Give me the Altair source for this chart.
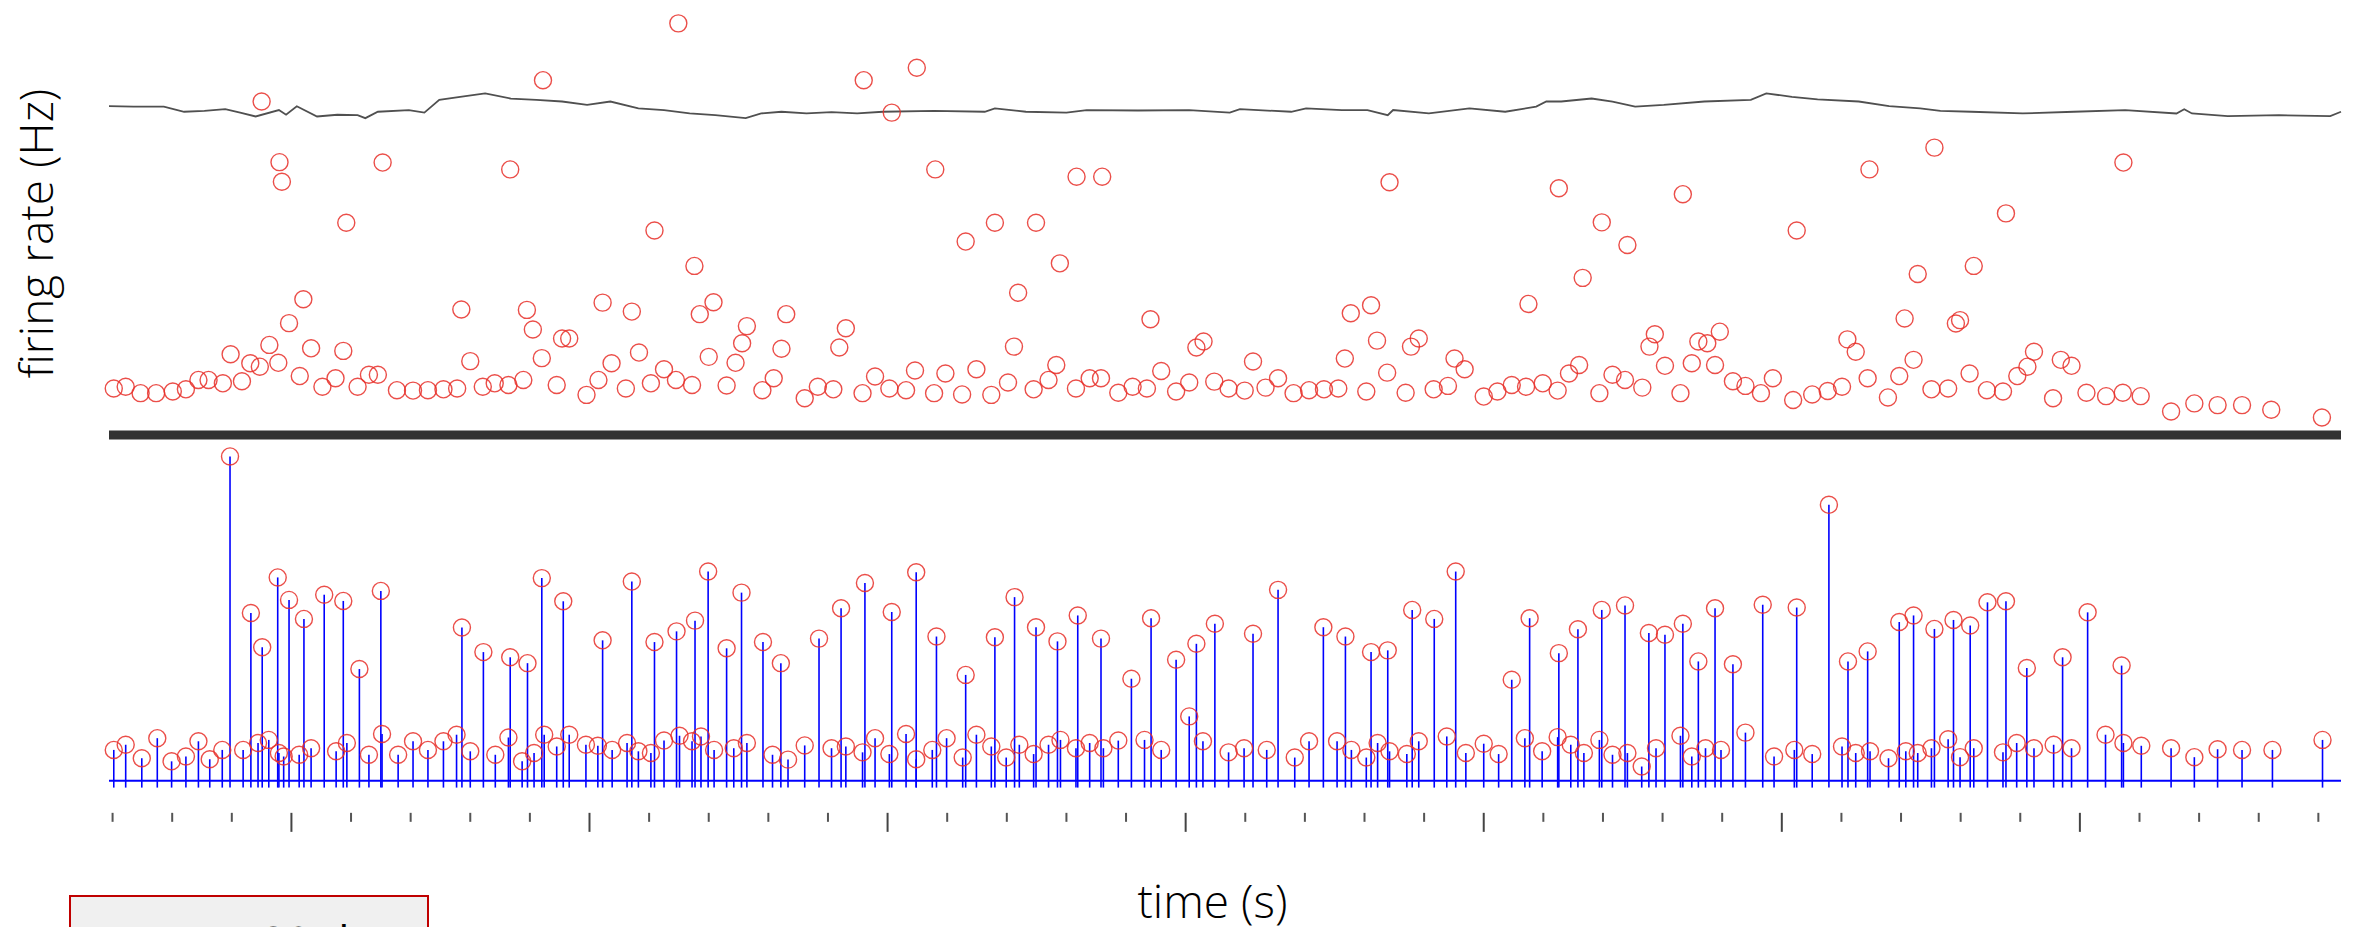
import altair as alt
import pandas as pd

FONT = "Open Sans"

# ---------------- top panel: firing rate of each spike (Hz) ----------------
rate_time_a = [11.49, 9.22, 4.50, 4.80, 4.84, 6.53, 8.67, 5.92, 11.09, 11.76,
               5.20, 7.85, 8.95, 10.22, 10.71, 11.85, 12.08, 13.30, 4.96, 9.05,
               12.64, 9.54, 9.66, 4.63, 5.33, 5.87, 12.56, 13.22, 3.98, 8.00,
               9.20, 10.83, 12.00, 12.45, 4.31, 4.47, 4.78, 10.37, 11.25, 5.14,
               6.30, 6.45, 5.74, 10.15, 13.09, 11.45]
rate_hz_a = [96.4, 83.1, 78.1, 63.9, 59.3, 63.8, 62.2, 49.7, 47.9, 39.6,
             31.8, 29.4, 29.3, 31.0, 28.9, 28.3, 31.1, 28.3, 26.2, 24.7,
             25.5, 22.6, 22.6, 21.1, 20.3, 19.7, 21.5, 20.2, 18.9, 17.3,
             18.0, 19.3, 18.3, 16.9, 16.8, 16.0, 16.9, 16.8, 15.4, 13.8,
             14.1, 14.1, 13.3, 12.9, 13.3, 12.9]
rate_time_b = [2.02, 2.22, 2.47, 2.73, 3.01, 3.23, 3.44, 3.61, 3.85, 4.17,
               5.52, 6.11, 6.77, 7.04, 7.29, 7.55, 7.78, 8.21, 8.41, 8.64,
               8.89, 9.45, 9.95, 10.61, 11.03, 11.72, 12.30, 12.90]
rate_hz_b = [10.9, 11.3, 9.8, 9.8, 10.2, 10.7, 12.9, 12.9, 12.1, 12.6,
             11.3, 11.3, 10.5, 10.4, 10.5, 10.7, 10.9, 11.3, 12.1, 11.7,
             12.9, 11.7, 9.4, 10.9, 12.1, 11.7, 11.6, 10.5]
rate_time_c = [14.60, 15.49, 15.07, 15.80, 18.17, 18.60, 23.42, 26.26, 16.80, 17.49,
               16.31, 17.89, 17.19, 25.75, 22.77, 23.11, 19.41, 14.30, 14.19, 17.12,
               20.18, 20.30, 23.21, 23.78, 23.91, 22.67, 21.13, 24.51, 24.68, 17.83,
               16.49, 15.46, 15.97, 14.79, 19.59, 23.38, 26.60, 26.43]
rate_hz_c = [83.1, 86.0, 75.5, 62.2, 60.5, 60.5, 59.2, 57.8, 49.7, 49.7,
             45.3, 40.2, 33.3, 30.7, 28.5, 30.4, 27.1, 25.0, 20.5, 20.7,
             20.5, 21.9, 22.1, 20.7, 22.6, 17.9, 17.2, 17.9, 15.4, 16.4,
             15.4, 15.1, 14.4, 13.7, 15.0, 14.6, 16.4, 14.4]
rate_time_d = [13.61, 13.83, 14.09, 14.58, 15.03, 15.31, 15.78, 16.25, 16.74, 17.02,
               17.45, 17.70, 18.16, 18.39, 18.58, 18.87, 19.11, 19.35, 19.84, 20.06,
               20.48, 20.72, 20.99, 21.34, 21.55, 21.81, 22.07, 22.32, 22.56, 23.03,
               23.69, 24.16, 24.40, 25.00, 25.23, 25.47, 25.71, 25.99, 26.24]
rate_hz_d = [8.6, 11.3, 10.7, 9.8, 10.9, 10.5, 9.8, 9.5, 9.4, 12.3,
             10.7, 12.9, 10.9, 13.3, 13.3, 9.9, 11.3, 10.9, 10.2, 12.3,
             12.5, 10.9, 10.4, 11.1, 13.3, 9.8, 10.5, 10.7, 10.9, 10.2,
             9.9, 10.7, 11.5, 9.0, 10.2, 11.7, 11.3, 12.1, 10.4]
rate_time_e = [32.56, 35.73, 31.47, 28.34, 33.76, 26.98, 30.25, 27.41, 33.22, 32.28,
               26.66, 32.06, 32.92, 32.99, 27.87, 27.78, 28.96, 28.60, 28.75, 31.10,
               31.24, 34.23, 34.68, 34.86, 32.21, 28.04, 28.49, 28.88, 34.12, 33.95,
               27.16, 27.37, 29.85, 31.44, 31.97, 33.15, 29.18, 29.39]
rate_hz_e = [67.3, 63.8, 62.2, 56.4, 51.9, 49.8, 47.9, 44.5, 39.6, 37.7,
             36.8, 27.3, 26.1, 26.9, 23.6, 20.7, 24.2, 21.9, 21.5, 22.4,
             19.5, 19.5, 17.6, 16.2, 17.6, 16.2, 16.8, 16.4, 16.0, 13.8,
             14.1, 12.9, 13.3, 13.3, 13.8, 14.4, 12.6, 11.5]
rate_time_f = [26.94, 27.66, 28.30, 29.65, 30.19, 30.51, 30.77, 31.01, 31.78, 32.51,
               32.79, 33.44, 33.71, 34.55, 35.11, 35.44, 35.72, 36.02, 36.53, 36.92,
               37.31, 37.72, 38.21, 39.06]
rate_hz_f = [9.8, 11.1, 9.8, 9.8, 8.2, 9.5, 10.3, 11.3, 8.8, 10.7,
             10.9, 10.5, 10.2, 8.6, 9.9, 9.1, 9.9, 9.1, 5.5, 7.4,
             7.0, 7.0, 5.9, 4.1]

# running mean rate (grey trace)
mean_time = [1.94, 2.35, 2.86, 3.20, 3.54, 3.89, 4.14, 4.40, 4.79, 4.91,
             5.09, 5.43, 5.77, 6.11, 6.24, 6.45, 6.97, 7.23, 7.48, 7.83,
             8.25, 8.68, 9.11, 9.54, 9.96, 10.35, 10.82, 11.25, 11.68, 12.11,
             12.62, 12.88, 13.22, 13.64, 14.06, 14.49, 14.92, 15.78, 16.63, 16.80,
             17.32, 18.00, 18.34, 19.20, 20.06, 20.74, 20.91, 21.77, 22.02, 22.62,
             23.05, 23.39, 23.48, 24.08, 24.76, 25.36, 25.88, 26.05, 26.30, 26.81,
             27.16, 27.54, 28.02, 28.70, 29.48, 29.74, 30.17, 30.60, 31.29, 31.80,
             32.32, 32.66, 33.18, 34.04, 34.90, 35.76, 36.62, 36.75, 36.88, 37.48,
             38.34, 39.20, 39.38]
mean_hz = [77.0, 76.9, 76.9, 75.7, 75.9, 76.3, 75.5, 74.6, 76.1, 75.0,
           77.0, 74.6, 75.0, 74.9, 74.2, 75.7, 76.1, 75.5, 78.5, 79.2,
           80.0, 78.8, 78.5, 78.1, 77.3, 78.1, 76.5, 76.1, 75.3, 74.9,
           74.2, 75.3, 75.7, 75.3, 75.6, 75.3, 75.7, 75.9, 75.7, 76.5,
           75.7, 75.5, 76.1, 76.0, 76.1, 75.5, 76.3, 75.7, 76.5, 76.1,
           76.1, 74.9, 76.1, 75.3, 76.5, 75.7, 76.9, 78.1, 78.1, 78.8,
           78.1, 76.9, 77.3, 78.1, 78.5, 80.0, 79.2, 78.6, 78.1, 77.0,
           76.5, 75.9, 75.7, 75.3, 75.7, 76.1, 75.3, 76.3, 75.3, 74.7,
           74.9, 74.7, 75.7]

# ---------------- bottom panel: spike amplitudes ----------------
spk_time_a = [3.97, 4.32, 4.51, 4.77, 4.96, 5.21, 5.55, 5.87, 6.14, 6.50,
              7.86, 8.22, 8.67, 8.96, 9.20, 9.56, 10.22, 10.71, 11.09, 11.46,
              11.77, 11.99, 12.30, 12.55, 12.91, 13.21]
spk_amp_a = [93.8, 48.5, 38.6, 58.8, 52.3, 46.8, 53.8, 52.0, 32.3, 54.9,
             44.3, 37.2, 35.7, 34.0, 58.6, 51.9, 40.6, 57.6, 40.1, 43.2,
             46.3, 60.5, 38.3, 54.4, 40.1, 34.0]
spk_time_b = [2.02, 2.22, 2.49, 2.75, 2.99, 3.23, 3.44, 3.63, 3.84, 4.19,
              4.44, 4.62, 4.79, 4.87, 5.13, 5.33, 5.75, 5.93, 6.30, 6.52,
              6.79, 7.04, 7.29, 7.55, 7.77, 8.00, 8.42, 8.64, 8.87, 9.07,
              9.24, 9.45, 9.66, 9.94, 10.14, 10.38, 10.63, 10.82, 11.03, 11.25,
              11.51, 11.72, 11.87, 12.09, 12.42, 12.64, 13.07, 13.33]
spk_amp_b = [8.9, 10.4, 6.5, 12.3, 5.6, 7.0, 11.4, 6.2, 8.9, 8.9,
             10.9, 11.8, 8.0, 7.0, 7.5, 9.4, 8.5, 10.9, 7.5, 13.5,
             7.5, 11.4, 8.9, 11.4, 13.3, 8.5, 7.5, 12.5, 5.6, 8.0,
             13.3, 9.9, 13.3, 10.4, 10.1, 8.9, 10.9, 8.5, 8.0, 11.6,
             13.0, 11.4, 12.8, 8.9, 9.4, 10.9, 7.5, 6.1]
spk_time_c = [13.85, 14.22, 14.62, 15.07, 15.48, 15.82, 16.31, 16.80, 17.13, 17.49,
              17.85, 18.19, 18.58, 19.09, 19.42, 19.84, 20.18, 20.06, 20.49, 21.13,
              21.55, 22.31, 22.68, 23.11, 23.39, 23.80, 24.17, 24.53, 25.47, 25.77,
              26.26, 26.58]
spk_amp_c = [41.1, 49.9, 57.2, 48.8, 60.3, 41.7, 30.6, 41.5, 53.1, 44.4,
             40.3, 47.8, 41.1, 29.5, 47.0, 35.0, 39.6, 18.6, 45.4, 42.5,
             55.2, 44.4, 41.7, 37.2, 37.7, 49.4, 46.8, 60.5, 29.2, 47.0,
             36.9, 43.8]
spk_time_d = [13.61, 14.06, 14.30, 14.58, 14.79, 15.03, 15.31, 15.48, 15.75, 15.99,
              16.26, 16.49, 16.74, 16.99, 17.21, 17.45, 17.70, 17.90, 18.16, 18.39,
              18.62, 18.87, 19.31, 19.59, 20.29, 20.72, 20.98, 21.36, 21.83, 22.07,
              22.54, 22.78, 23.03, 23.22, 23.42, 23.71, 23.91, 24.38, 24.70, 25.00,
              25.25, 25.69, 25.98, 26.24, 26.46]
spk_amp_d = [10.2, 9.4, 9.9, 8.2, 12.3, 7.7, 13.5, 6.2, 8.9, 12.3,
             6.7, 13.3, 9.9, 6.7, 10.4, 7.7, 10.4, 11.8, 9.4, 10.9,
             9.4, 11.6, 11.8, 8.9, 11.4, 8.2, 9.4, 8.9, 6.7, 11.4,
             11.4, 8.9, 6.7, 10.9, 8.5, 7.7, 11.4, 12.8, 8.0, 10.7,
             7.7, 12.3, 8.5, 12.6, 10.4]
spk_time_e = [26.98, 27.37, 27.77, 28.04, 28.34, 28.60, 28.88, 29.18, 29.68, 30.25,
              30.79, 31.11, 31.44, 31.97, 32.21, 32.56, 32.88, 33.16, 33.45, 33.76,
              34.11, 34.71, 35.13, 35.70]
spk_amp_e = [49.4, 50.7, 42.7, 42.2, 45.4, 34.5, 49.9, 33.7, 50.9, 50.1,
             79.8, 34.5, 37.4, 45.9, 47.8, 43.9, 46.5, 44.9, 51.6, 51.9,
             32.6, 35.7, 48.7, 33.3]
spk_time_f = [26.68, 26.94, 27.16, 27.41, 27.65, 27.89, 28.30, 28.49, 28.72, 28.98,
              29.39, 29.87, 30.21, 30.51, 31.01, 31.24, 31.48, 31.79, 32.08, 32.28,
              32.51, 32.79, 32.99, 33.22, 33.71, 33.94, 34.23, 34.56, 34.86, 35.43,
              35.73, 36.03, 36.53, 36.92, 37.31, 37.72, 38.23, 39.07]
spk_amp_f = [8.0, 11.8, 7.5, 8.0, 4.1, 9.4, 13.0, 7.0, 9.4, 8.9,
             13.9, 7.0, 8.9, 7.7, 9.9, 8.0, 8.5, 6.5, 8.5, 8.0,
             9.4, 12.0, 6.8, 9.4, 8.2, 10.9, 9.4, 10.4, 9.4, 13.3,
             10.9, 10.1, 9.4, 6.8, 9.1, 8.9, 8.9, 11.8]

# time ticks (s)
minor_ticks = [2, 3, 4, 6, 7, 8, 9, 11, 12, 13, 14, 16, 17, 18, 19, 21, 22, 23, 24,
               26, 27, 28, 29, 31, 32, 33, 34, 36, 37, 38, 39]
major_ticks = [5, 10, 15, 20, 25, 30, 35]

box_label = ["PMP = 80 dB"]

# ---------------- tables ----------------
rate_df = pd.DataFrame({
    "t": rate_time_a + rate_time_b + rate_time_c + rate_time_d + rate_time_e + rate_time_f,
    "v": rate_hz_a + rate_hz_b + rate_hz_c + rate_hz_d + rate_hz_e + rate_hz_f,
})
mean_df = pd.DataFrame({"t": mean_time, "v": mean_hz})
spike_df = pd.DataFrame({
    "t": spk_time_a + spk_time_b + spk_time_c + spk_time_d + spk_time_e + spk_time_f,
    "a": spk_amp_a + spk_amp_b + spk_amp_c + spk_amp_d + spk_amp_e + spk_amp_f,
})
minor_df = pd.DataFrame({"t": minor_ticks, "lo": [-9.3] * len(minor_ticks),
                         "hi": [-11.9] * len(minor_ticks)})
major_df = pd.DataFrame({"t": major_ticks, "lo": [-9.3] * len(major_ticks),
                         "hi": [-14.8] * len(major_ticks)})
zero_top = pd.DataFrame({"t0": [1.94], "t1": [39.38], "v": [0]})
zero_bot = pd.DataFrame({"t0": [1.94], "t1": [39.38], "a": [0]})
box_df = pd.DataFrame({"label": box_label})

# ---------------- scales ----------------
x_scale = alt.Scale(domain=[1.94, 39.38], nice=False, zero=False)
y_top_scale = alt.Scale(domain=[0, 100], nice=False, zero=False)
y_bot_scale = alt.Scale(domain=[-16, 100], nice=False, zero=False)

top_y_axis = alt.Axis(title="firing rate (Hz)", labels=False, ticks=False,
                      domain=False, grid=False, titleFont=FONT,
                      titleFontSize=46, titleFontWeight=300, titleColor="#000000",
                      titleX=-47, titleY=225)
bot_x_axis = alt.Axis(title="time (s)", labels=False, ticks=False, domain=False,
                      grid=False, titleFont=FONT, titleFontSize=46,
                      titleFontWeight=300, titleColor="#000000",
                      titlePadding=45, titleX=1103)

circle_style = dict(shape="circle", filled=False, size=290, color="#e8302a",
                    strokeWidth=1.4, opacity=0.85)

# ---------------- top panel ----------------
mean_line = alt.Chart(mean_df).mark_line(color="#505050", strokeWidth=1.8).encode(
    x=alt.X("t:Q", scale=x_scale, axis=None),
    y=alt.Y("v:Q", scale=y_top_scale, axis=top_y_axis))
rate_pts = alt.Chart(rate_df).mark_point(**circle_style).encode(
    x=alt.X("t:Q", scale=x_scale, axis=None),
    y=alt.Y("v:Q", scale=y_top_scale, axis=top_y_axis))
bar = alt.Chart(zero_top).mark_rule(color="#333333", strokeWidth=9).encode(
    x=alt.X("t0:Q", scale=x_scale, axis=None), x2="t1:Q",
    y=alt.Y("v:Q", scale=y_top_scale, axis=top_y_axis))

top = alt.layer(mean_line, rate_pts, bar).properties(width=2232, height=427)

# ---------------- bottom panel ----------------
bx = alt.X("t:Q", scale=x_scale, axis=bot_x_axis)
baseline = alt.Chart(zero_bot).mark_rule(color="#0000ff", strokeWidth=2).encode(
    x=alt.X("t0:Q", scale=x_scale, axis=bot_x_axis), x2="t1:Q",
    y=alt.Y("a:Q", scale=y_bot_scale, axis=None))
stems = alt.Chart(spike_df).transform_calculate(lo="-2").mark_rule(
    color="#0000ff", strokeWidth=1.6).encode(
    x=bx, y=alt.Y("a:Q", scale=y_bot_scale, axis=None), y2="lo:Q")
heads = alt.Chart(spike_df).mark_point(**circle_style).encode(
    x=bx, y=alt.Y("a:Q", scale=y_bot_scale, axis=None))
minor = alt.Chart(minor_df).mark_rule(color="#555555", strokeWidth=2).encode(
    x=bx, y=alt.Y("lo:Q", scale=y_bot_scale, axis=None), y2="hi:Q")
major = alt.Chart(major_df).mark_rule(color="#444444", strokeWidth=2).encode(
    x=bx, y=alt.Y("lo:Q", scale=y_bot_scale, axis=None), y2="hi:Q")
box = alt.Chart(box_df).mark_rect(fill="#f0f0f0", stroke="#c00000", strokeWidth=2).encode(
    x=alt.value(-39), x2=alt.value(319), y=alt.value(461), y2=alt.value(535))
box_text = alt.Chart(box_df).mark_text(font=FONT, fontSize=44, color="#000000",
                                       align="center", baseline="alphabetic").encode(
    text="label:N", x=alt.value(140), y=alt.value(523))

bottom = alt.layer(baseline, stems, minor, major, heads, box, box_text).properties(
    width=2232, height=401)

chart = alt.vconcat(top, bottom, spacing=0, bounds="flush").properties(
    padding={"left": 7, "top": 0, "right": 0, "bottom": 0}
).configure(font=FONT).configure_view(stroke=None)

chart.save("out.html", embed_options={"renderer": "svg", "actions": False})
